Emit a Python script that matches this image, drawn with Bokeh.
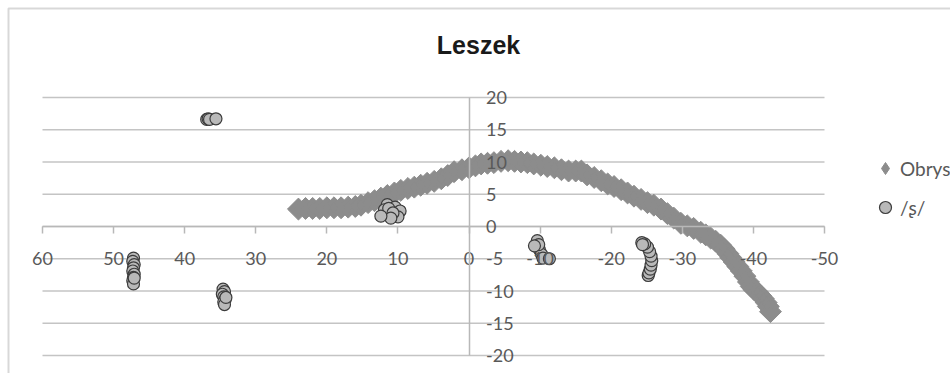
from bokeh.plotting import figure
from bokeh.models import Range1d, Legend, LegendItem, Label, BoxAnnotation, FixedTicker
from bokeh.embed import file_html
from bokeh.resources import INLINE
import math

chart_title = "Leszek"

# Obrys: outline trace (centre of the dense band of points)
obrys_x = [24.0, 23.0, 22.0, 21.0, 20.0, 19.0, 18.0, 17.0, 16.0, 15.2, 14.2, 13.3,
           12.4, 11.5, 10.5, 9.6, 8.6, 7.7, 6.8, 5.9, 4.9, 3.9, 3.0, 2.1, 1.0, 0.0,
           -0.9, -1.7, -2.6, -3.5, -4.5, -5.5, -6.4, -7.3, -8.2, -9.1, -10.1, -11.0,
           -12.0, -13.0, -14.0, -15.0, -15.8, -16.6, -17.6, -18.6, -19.5, -20.4,
           -21.4, -22.3, -23.2, -24.2, -25.1, -26.0, -27.0, -27.9, -28.8, -29.8,
           -30.7, -31.6, -32.6, -33.3, -34.0, -34.7, -35.4, -35.9, -36.4, -36.8,
           -37.3, -37.8, -38.3, -38.8, -39.3, -39.7, -40.1, -40.6, -41.0, -41.4,
           -41.8, -42.1, -42.4]
obrys_y = [2.7, 2.8, 2.8, 2.8, 2.9, 2.9, 2.9, 3.0, 3.1, 3.3, 3.7, 4.0,
           4.4, 4.8, 5.2, 5.6, 5.9, 6.1, 6.4, 6.7, 7.0, 7.4, 7.9, 8.5, 8.8, 9.1,
           9.4, 9.7, 9.8, 9.9, 10.1, 10.2, 10.1, 10.0, 9.9, 9.7, 9.5, 9.3,
           9.1, 8.8, 8.6, 8.6, 8.6, 8.0, 7.6, 7.1, 6.6, 6.2,
           5.7, 5.2, 4.7, 4.2, 3.7, 3.3, 2.7, 2.0, 1.3, 0.5,
           0.1, -0.3, -0.9, -1.3, -1.8, -2.3, -2.9, -3.5, -4.2, -4.8,
           -5.5, -6.2, -6.9, -7.7, -8.6, -9.3, -9.8, -10.2, -10.7, -11.2,
           -11.8, -12.4, -13.2]

# /ʂ/ measurements
s_x = [36.9, 36.7, 36.5, 35.6,
       47.2, 47.3, 47.1, 47.2, 47.3, 47.1, 47.2, 47.3, 47.2, 47.1,
       34.6, 34.4, 34.7, 34.5, 34.3, 34.5, 34.4, 34.2,
       11.5, 10.4, 11.9, 9.7, 11.3, 10.0, 10.7, 11.0, 12.4,
       -9.6, -9.9, -10.2, -10.4, -11.3, -9.8, -9.2,
       -25.2, -25.3, -25.5, -25.6, -25.7, -25.6, -25.4, -25.1, -24.7, -24.3, -24.4]
s_y = [16.6, 16.7, 16.6, 16.7,
       -4.9, -5.4, -5.9, -6.4, -6.9, -7.4, -7.9, -8.4, -8.9, -8.0,
       -9.7, -10.1, -10.5, -10.9, -11.3, -11.7, -12.1, -11.0,
       3.4, 3.0, 2.6, 2.4, 2.8, 1.5, 2.1, 1.3, 1.6,
       -2.2, -3.6, -4.3, -4.9, -5.0, -2.8, -3.0,
       -7.6, -7.2, -6.6, -6.0, -5.3, -4.6, -3.9, -3.2, -2.7, -2.5, -2.8]

x_ticks = [60, 50, 40, 30, 20, 10, 0, -10, -20, -30, -40, -50]
y_ticks = [-20, -15, -10, -5, 0, 5, 10, 15, 20]
x_lo, x_hi = 60, -50
y_lo, y_hi = -20, 20

W, H = 950, 373
# plot-area placement inside the canvas (pixels)
area_left, area_right, area_top, area_bottom = 42, 824, 97, 355

label_font = "Lato"
label_color = "#595959"
axis_color = "#b8b8b8"
grid_color = "#c4c4c4"
band_color = "#8c8c8c"

# the frame fills the canvas; ranges are widened so the axes land on the plot area
kx = (x_hi - x_lo) / (area_right - area_left)
ky = (y_hi - y_lo) / (area_bottom - area_top)
xr = Range1d(x_lo - area_left * kx, x_lo + (W - area_left) * kx)
yr = Range1d(y_lo - (H - area_bottom) * ky, y_hi + area_top * ky)

p = figure(width=W, height=H, output_backend="svg", toolbar_location=None,
           x_range=xr, y_range=yr, y_axis_location="right",
           min_border=0, min_border_left=0, min_border_right=0,
           min_border_top=0, min_border_bottom=0)
p.outline_line_color = None
p.background_fill_color = "white"
p.border_fill_color = "white"
p.xgrid.visible = False
p.ygrid.visible = False

# horizontal gridlines across the plot area
p.segment(x0=[x_lo] * len(y_ticks), x1=[x_hi] * len(y_ticks), y0=y_ticks, y1=y_ticks,
          line_color=grid_color, line_width=1.5)

# horizontal axis crossing at y = 0
xa = p.xaxis[0]
xa.fixed_location = 0
xa.bounds = (x_hi, x_lo)
xa.ticker = FixedTicker(ticks=x_ticks)
xa.major_label_overrides = {t: str(t) for t in x_ticks}
xa.axis_line_color = axis_color
xa.axis_line_width = 1.5
xa.major_tick_line_color = axis_color
xa.major_tick_line_width = 1.5
xa.major_tick_out = 7
xa.major_tick_in = 0
xa.minor_tick_out = 0
xa.minor_tick_in = 0
xa.major_label_standoff = 18
xa.major_label_text_font = label_font
xa.major_label_text_font_size = "18px"
xa.major_label_text_color = label_color

# vertical axis crossing at x = 0
ya = p.yaxis[0]
ya.fixed_location = 0
ya.bounds = (y_lo, y_hi)
ya.ticker = FixedTicker(ticks=y_ticks)
ya.major_label_overrides = {t: str(t) for t in y_ticks}
ya.axis_line_color = axis_color
ya.axis_line_width = 1.5
ya.major_tick_out = 0
ya.major_tick_in = 0
ya.minor_tick_out = 0
ya.minor_tick_in = 0
ya.major_label_standoff = 17
ya.major_label_text_font = label_font
ya.major_label_text_font_size = "18px"
ya.major_label_text_color = label_color

# Obrys: broad band of points, with diamond markers of the same series on top
p.scatter(obrys_x, obrys_y, marker="square", angle=math.pi / 4, size=15.5,
          fill_color=band_color, line_color=band_color, line_width=1)
band = p.scatter(obrys_x, obrys_y, marker="diamond", size=12,
                 fill_color=band_color, line_color=band_color, line_width=1)
dots = p.scatter(s_x, s_y, marker="circle", size=12,
                 fill_color="#b9b9b9", line_color="#3c3c3c", line_width=1.2)

def make_legend(label, renderer, loc, glyph):
    return Legend(items=[LegendItem(label=label, renderers=[renderer])],
                  location=loc, glyph_width=glyph, glyph_height=glyph,
                  padding=0, margin=0, spacing=0, label_standoff=0,
                  border_line_color=None, background_fill_alpha=0,
                  label_text_font=label_font, label_text_font_size="19px",
                  label_text_color=label_color)

p.add_layout(make_legend("Obrys", band, (870, 190), 30))
p.add_layout(make_legend("/ʂ/", dots, (870, 151), 30))

p.add_layout(Label(x=478, y=44, x_units="canvas", y_units="canvas", text=chart_title,
                   text_font="Liberation Sans", text_font_style="bold",
                   text_font_size="25px", text_color="#1a1a1a",
                   text_align="center", text_baseline="middle"))

p.add_layout(BoxAnnotation(left=8, right=1200, top=8, bottom=900,
                           left_units="canvas", right_units="canvas",
                           top_units="canvas", bottom_units="canvas",
                           fill_alpha=0, line_color="#7f7f7f", line_width=2))

open("out.html", "w").write(file_html(p, INLINE))
